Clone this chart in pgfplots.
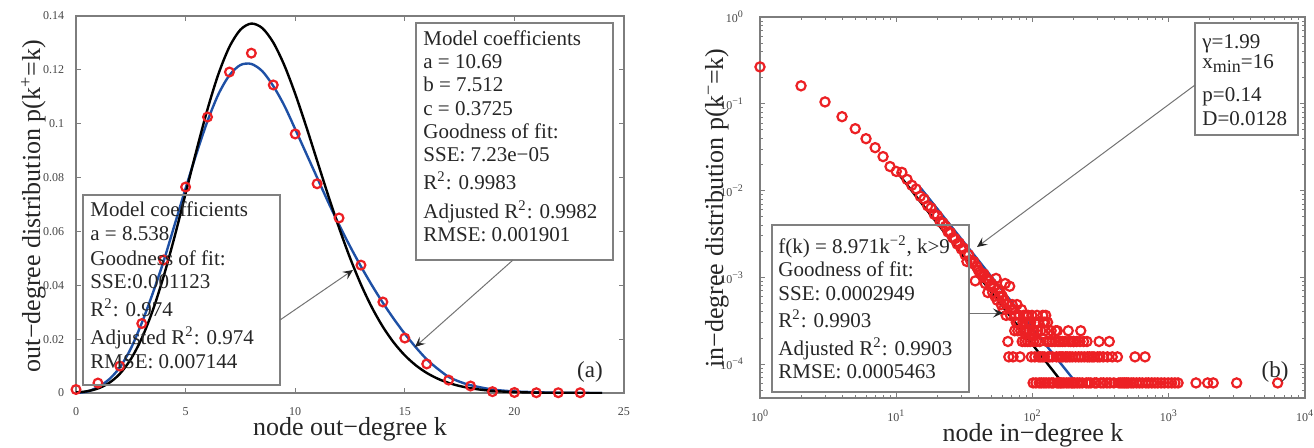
\documentclass[border=0pt]{standalone}
\usepackage{pgfplots}
\pgfplotsset{compat=1.18}
\usepackage{pgfplotstable}
\usepackage{fontspec}
\setmainfont{Liberation Serif}
\usetikzlibrary{arrows.meta}
\definecolor{fitblue}{RGB}{30,80,165}
\definecolor{ptred}{RGB}{236,32,36}
\definecolor{axgray}{RGB}{125,125,125}
\definecolor{lblgray}{RGB}{70,70,70}

% out-degree: observed distribution
\pgfplotstableread{
k p
0 0.0013
1 0.0037
2 0.0100
3 0.0258
4 0.0494
5 0.0765
6 0.1025
7 0.1192
8 0.1262
9 0.1144
10 0.0962
11 0.0777
12 0.0650
13 0.0475
14 0.0338
15 0.0204
16 0.0108
17 0.0048
18 0.0026
19 0.0005
20 0.0002
21 0.0001
22 0.0001
23 0.0001
}\outdeg

% out-degree: Poisson fit (black)
\pgfplotstableread{
k p
0 0.000196
0.5 0.000646
1 0.001673
1.5 0.003677
2 0.007140
2.5 0.012556
3 0.020321
3.5 0.030630
4 0.043375
4.5 0.058115
5 0.074067
5.5 0.090216
6 0.105397
6.5 0.118503
7 0.128554
7.5 0.134904
8 0.137199
8.5 0.135507
9 0.130157
9.5 0.121786
10 0.111128
10.5 0.099029
11 0.086256
11.5 0.073522
12 0.061371
12.5 0.050219
13 0.040306
13.5 0.031760
14 0.024581
14.5 0.018701
15 0.013991
15.5 0.010301
16 0.007466
16.5 0.005330
17 0.003750
17.5 0.002601
18 0.001779
18.5 0.001200
19 0.000799
19.5 0.000526
20 0.000341
21 0.000139
22 0.000054
23 0.000020
24 0.000007
}\poisfit

% out-degree: three-parameter fit (blue)
\pgfplotstableread{
k p
0 0.0000
0.5 0.0005
1 0.0022
1.5 0.0050
2 0.0095
2.5 0.0165
3 0.0260
3.5 0.0370
4 0.0490
4.5 0.0625
5 0.0760
5.5 0.0890
6 0.1010
6.5 0.1110
7 0.1180
7.5 0.1218
8 0.1222
8.5 0.1195
9 0.1140
9.5 0.1068
10 0.0980
10.5 0.0890
11 0.0800
11.5 0.0710
12 0.0625
12.5 0.0545
13 0.0470
13.5 0.0400
14 0.0335
14.5 0.0275
15 0.0220
15.5 0.0170
16 0.0125
16.5 0.0090
17 0.0060
17.5 0.0042
18 0.0029
19 0.0013
20 0.0006
21 0.0003
22 0.0001
24 0.0000
}\gaussfit

% in-degree: observed distribution
\pgfplotstableread{
k p
1 0.266
2 0.161
3 0.105
4 0.071
5 0.0516
6 0.0396
7 0.0312
8 0.0246
9 0.0189
10 0.0166
11 0.0162
12 0.01345
13 0.01151
14 0.01042
15 0.00861
16 0.00800
17 0.00667
18 0.00630
19 0.00533
20 0.00515
21 0.00436
22 0.00424
23 0.00388
24 0.00333
25 0.00327
26 0.00285
27 0.00279
28 0.00242
29 0.00248
30 0.00212
31 0.00218
32 0.00182
33 0.00152
34 0.00182
35 0.00158
36 0.00145
37 0.00152
38 0.000909
39 0.00133
40 0.00121
41 0.00115
42 0.00109
43 0.00103
44 0.00109
45 0.000848
46 0.000970
47 0.000667
48 0.000909
49 0.000788
50 0.000848
51 0.000667
52 0.000788
53 0.000606
54 0.000970
55 0.000545
56 0.000727
57 0.000606
58 0.000667
59 0.000485
60 0.000606
61 0.000424
62 0.000545
63 0.000848
64 0.000364
65 0.000485
66 0.000182
67 0.000121
68 0.000788
69 0.000364
70 0.000424
71 0.000485
72 0.000121
73 0.000424
74 0.000242
75 0.000364
76 0.000303
77 0.000485
78 0.000242
79 0.000303
80 0.000364
81 0.000121
82 0.000242
83 0.000424
84 0.000182
85 0.000303
86 0.000364
87 0.000242
88 0.000182
89 0.000303
90 0.000364
91 0.000242
92 0.000182
93 0.000364
94 0.000303
95 0.000242
96 0.000182
97 0.000303
98 0.000121
99 0.000364
100 0.000242
102 0.000182
103 0.000242
104 0.000121
105 0.000303
107 0.000182
108 0.000364
109 0.000242
110 0.000303
111 0.000121
113 0.000182
114 0.000121
115 0.000242
118 0.000121
119 0.000364
120 0.000303
122 0.000121
123 0.000303
124 0.000242
125 0.000364
127 0.000182
129 0.000303
130 0.000121
133 0.000182
134 0.000121
137 0.000242
139 0.000182
140 0.000121
146 0.000182
148 0.000242
150 0.000121
152 0.000242
154 0.000182
157 0.000121
159 0.000182
162 0.000121
166 0.000182
167 0.000121
173 0.000182
175 0.000121
180 0.000121
183 0.000242
184 0.000182
188 0.000121
191 0.000182
196 0.000121
200 0.000182
201 0.000182
207 0.000121
211 0.000182
218 0.000121
223 0.000182
226 0.000242
228 0.000121
237 0.000182
240 0.000121
251 0.000182
253 0.000121
262 0.000121
273 0.000121
283 0.000121
300 0.000121
308 0.000182
312 0.000121
330 0.000121
355 0.000121
366 0.000182
385 0.000121
420 0.000121
565 0.000121
670 0.000121
101 6.06e-5
106 6.06e-5
112 6.06e-5
116 6.06e-5
121 6.06e-5
126 6.06e-5
132 6.06e-5
138 6.06e-5
142 6.06e-5
151 6.06e-5
155 6.06e-5
160 6.06e-5
164 6.06e-5
170 6.06e-5
178 6.06e-5
185 6.06e-5
193 6.06e-5
198 6.06e-5
204 6.06e-5
213 6.06e-5
222 6.06e-5
232 6.06e-5
248 6.06e-5
258 6.06e-5
268 6.06e-5
286 6.06e-5
295 6.06e-5
318 6.06e-5
332 6.06e-5
352 6.06e-5
370 6.06e-5
395 6.06e-5
430 6.06e-5
445 6.06e-5
460 6.06e-5
475 6.06e-5
490 6.06e-5
505 6.06e-5
530 6.06e-5
550 6.06e-5
580 6.06e-5
610 6.06e-5
640 6.06e-5
680 6.06e-5
710 6.06e-5
750 6.06e-5
790 6.06e-5
830 6.06e-5
880 6.06e-5
930 6.06e-5
990 6.06e-5
1050 6.06e-5
1110 6.06e-5
1170 6.06e-5
1585 6.06e-5
1930 6.06e-5
2120 6.06e-5
3150 6.06e-5
6300 6.06e-5
}\indeg

\newcommand{\bt}[3]{\node[anchor=base west, inner sep=0pt, font=\fontsize{10.5}{12}\selectfont] at (#1,#2) {#3};}
\newcommand{\Rsq}{R\textsuperscript{2}}

\begin{document}
\begin{tikzpicture}[x=1pt,y=1pt]
\useasboundingbox (0,0) rectangle (657,-223.5);

\pgfplotsset{
  every axis/.append style={
    scale only axis,
    axis line style={axgray, line width=0.6pt},
    tick style={axgray, line width=0.4pt},
    tick align=inside,
    major tick length=2.5pt,
    minor tick length=1.3pt,
    ticklabel style={font=\fontsize{6}{7}\selectfont, text=lblgray},
  },
}

% ---------- (a) out-degree ----------
\begin{axis}[
  at={(38pt,-196.5pt)}, anchor=south west,
  width=274pt, height=188.5pt,
  xmin=0, xmax=25, ymin=0, ymax=0.14,
  xtick={0,5,10,15,20,25},
  ytick={0,0.02,0.04,0.06,0.08,0.1,0.12,0.14},
  scaled y ticks=false,
  /pgf/number format/assume math mode=true,
  yticklabel style={/pgf/number format/fixed, /pgf/number format/precision=2, xshift=-2.4pt},
  xticklabel style={yshift=-3.8pt},
]
\addplot[only marks, mark=o, mark size=2.2pt, mark options={ptred, line width=1.1pt}] table[x=k, y=p] {\outdeg};
\addplot[fitblue, line width=1.2pt, smooth] table[x=k, y=p] {\gaussfit};
\addplot[black, line width=1.2pt, smooth] table[x=k, y=p] {\poisfit};
\end{axis}

% ---------- (b) in-degree ----------
\begin{axis}[
  at={(380pt,-199pt)}, anchor=south west,
  width=272.5pt, height=190.5pt,
  xmode=log, ymode=log,
  xmin=1, xmax=10000, ymin=4.06e-5, ymax=1,
  xtick={1,10,100,1000,10000},
  xticklabels={10\textsuperscript{0},10\textsuperscript{1},10\textsuperscript{2},10\textsuperscript{3},10\textsuperscript{4}},
  minor xtick={2,3,4,5,6,7,8,9,20,30,40,50,60,70,80,90,200,300,400,500,600,700,800,900,2000,3000,4000,5000,6000,7000,8000,9000},
  ytick={1e-4,1e-3,1e-2,1e-1,1},
  yticklabels={10\textsuperscript{−4},10\textsuperscript{−3},10\textsuperscript{−2},10\textsuperscript{−1},10\textsuperscript{0}},
  minor ytick={5e-5,6e-5,7e-5,8e-5,9e-5,2e-4,3e-4,4e-4,5e-4,6e-4,7e-4,8e-4,9e-4,2e-3,3e-3,4e-3,5e-3,6e-3,7e-3,8e-3,9e-3,0.02,0.03,0.04,0.05,0.06,0.07,0.08,0.09,0.2,0.3,0.4,0.5,0.6,0.7,0.8,0.9},
  yticklabel style={xshift=-4.5pt},
  xticklabel style={yshift=-2.4pt},
]
\addplot[only marks, mark=o, mark size=2.3pt, mark options={ptred, line width=1.1pt}] table[x=k, y=p] {\indeg};
\addplot[black, line width=1.2pt] coordinates {(10.2,0.0161) (171,5.73e-5)};
\addplot[fitblue, line width=1.2pt] coordinates {(15.1,0.0107) (199,6.7e-5)};
\end{axis}

% ---------- axis labels ----------
\node[rotate=90, anchor=base, font=\fontsize{13}{15}\selectfont, text=black!85] at (20,-103) {out−degree distribution p(k\textsuperscript{+}=k)};
\node[anchor=base, font=\fontsize{13}{15}\selectfont, text=black!85] at (175,-217.9) {node out−degree k};
\node[rotate=90, anchor=base, font=\fontsize{13}{15}\selectfont, text=black!85] at (361.5,-104) {in−degree distribution p(k\textsuperscript{−}=k)};
\node[anchor=base, font=\fontsize{13}{15}\selectfont, text=black!85] at (516.5,-220.8) {node in−degree k};

\node[font=\fontsize{11.5}{13}\selectfont, text=black!85] at (295,-186) {(a)};
\node[font=\fontsize{11.5}{13}\selectfont, text=black!85] at (637.5,-186) {(b)};

% ---------- annotation boxes ----------
\begin{scope}[text=black!85]
\draw[black!50, line width=0.6pt] (208,-11.5) rectangle (306.5,-130);
\bt{211.5}{-22.5}{Model coefficients}
\bt{211.5}{-34.2}{a = 10.69}
\bt{211.5}{-45.8}{b = 7.512}
\bt{211.5}{-57.5}{c = 0.3725}
\bt{211.5}{-69.2}{Goodness of fit:}
\bt{211.5}{-80.8}{SSE: 7.23e−05}
\bt{211.5}{-94.7}{\Rsq: 0.9983}
\bt{211.5}{-109.2}{Adjusted \Rsq: 0.9982}
\bt{211.5}{-120.8}{RMSE: 0.001901}

\draw[black!50, line width=0.6pt] (41.5,-97.5) rectangle (140,-192.5);
\bt{45}{-108.3}{Model coefficients}
\bt{45}{-120.3}{a = 8.538}
\bt{45}{-132.5}{Goodness of fit:}
\bt{45}{-144.2}{SSE:0.001123}
\bt{45}{-158.3}{\Rsq: 0.974}
\bt{45}{-172}{Adjusted \Rsq: 0.974}
\bt{45}{-184.2}{RMSE: 0.007144}

\draw[black!50, line width=0.6pt] (597.5,-11.5) rectangle (649,-67.5);
\bt{601}{-24}{γ=1.99}
\bt{601}{-34}{x\raisebox{-0.45ex}{\fontsize{9}{10}\selectfont min}=16}
\bt{601}{-50.8}{p=0.14}
\bt{601}{-62.5}{D=0.0128}

\draw[black!50, line width=0.6pt] (386,-112.5) rectangle (484.5,-196);
\bt{389}{-126.7}{f(k) = 8.971k\textsuperscript{−2}, k>9}
\bt{389}{-138}{Goodness of fit:}
\bt{389}{-150}{SSE: 0.0002949}
\bt{389}{-163.7}{\Rsq: 0.9903}
\bt{389}{-177.5}{Adjusted \Rsq: 0.9903}
\bt{389}{-189.2}{RMSE: 0.0005463}
\end{scope}

% ---------- arrows ----------
\tikzset{callout/.style={black!55, line width=0.5pt, -{Stealth[length=5pt, width=4.5pt, inset=2pt, black!85]}}}
\draw[callout] (140,-160) -- (176.5,-135);
\draw[callout] (256.5,-130) -- (207.5,-173.5);
\draw[callout] (597.5,-42.5) -- (488.5,-123.5);
\draw[callout] (484.5,-156.5) -- (501.5,-156.5);

\end{tikzpicture}
\end{document}
